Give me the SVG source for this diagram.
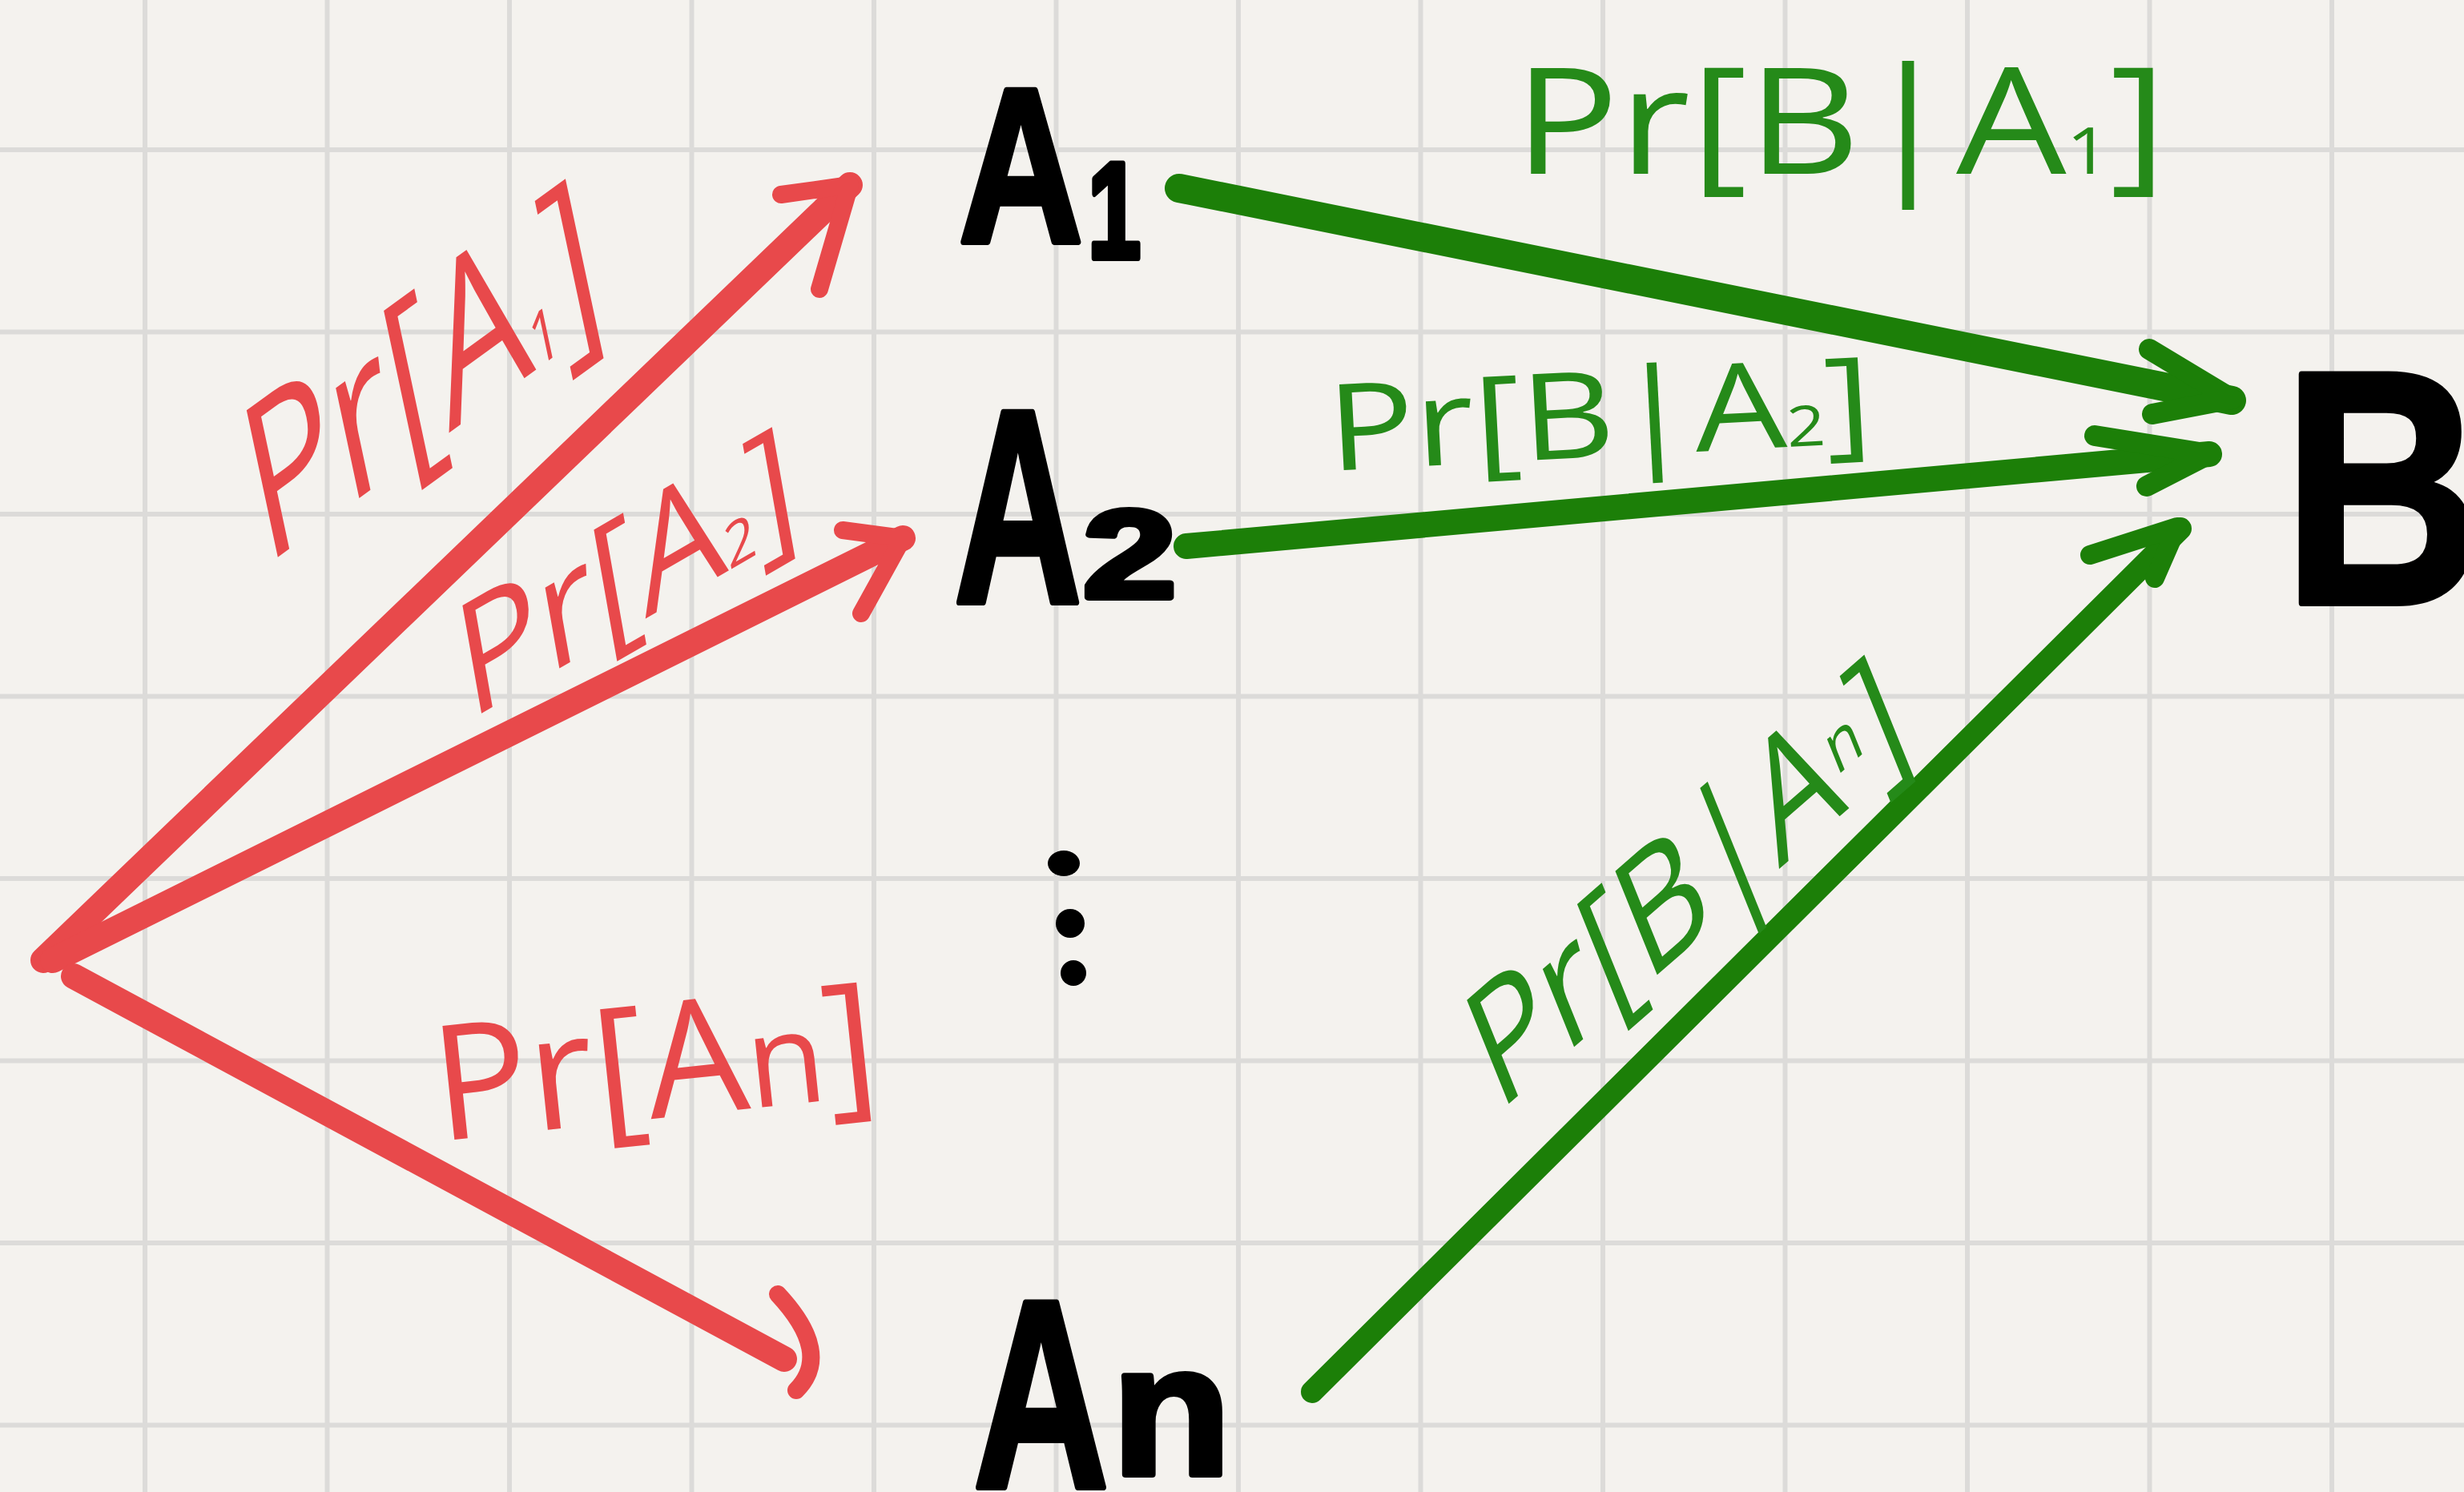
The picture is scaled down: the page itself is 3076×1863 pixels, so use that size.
<svg xmlns="http://www.w3.org/2000/svg" width="3076" height="1863" viewBox="0 0 3076 1863">
<style>
.grid{stroke:#dcdbd9;stroke-width:6;fill:none}
.red{stroke:#e8494b;fill:none;stroke-linecap:round;stroke-linejoin:round}
.grn{stroke:#1c7f08;fill:none;stroke-linecap:round;stroke-linejoin:round}
.big{font-family:"Liberation Sans",Arial,sans-serif;font-weight:bold;fill:#000;stroke:#000;stroke-width:8;stroke-linejoin:round}
.rl{font-family:"Open Sans","Liberation Sans",Arial,sans-serif;font-weight:400;fill:#e8494b}
.gl{font-family:"Open Sans","Liberation Sans",Arial,sans-serif;font-weight:400;fill:#258a19}
</style>
<rect width="3076" height="1863" fill="#f4f2ee"/>
<path class="grid" d="M181,0V1863M408.5,0V1863M636,0V1863M863.5,0V1863M1091,0V1863M1318.5,0V1863M1546,0V1863M1773.5,0V1863M2001,0V1863M2228.5,0V1863M2456,0V1863M2683.5,0V1863M2911,0V1863M0,187H3076M0,414.5H3076M0,642H3076M0,869.5H3076M0,1097H3076M0,1324.5H3076M0,1552H3076M0,1779.5H3076"/>
<g id="connectors">
<path class="red" stroke-width="32" d="M54,1199L1061,231"/>
<polyline class="red" stroke-width="22" points="975,243 1061,231 1023,361"/>
<path class="red" stroke-width="32" d="M66,1199L1127,672"/>
<polyline class="red" stroke-width="22" points="1052,662 1127,672 1075,766"/>
<path class="red" stroke-width="32" d="M92,1219L979,1697"/>
<path class="red" stroke-width="22" d="M971,1616Q1040,1690 994,1736"/>
<path class="grn" stroke-width="36" d="M1472,235L2786,500"/>
<polyline class="grn" stroke-width="26" points="2683,436 2786,498 2687,517"/>
<path class="grn" stroke-width="32" d="M1481,682L2758,567"/>
<polyline class="grn" stroke-width="26" points="2615,544 2758,567 2680,607"/>
<path class="grn" stroke-width="28" d="M1638,1738L2722,660"/>
<polyline class="grn" stroke-width="24" points="2609,693 2718,658 2690,722"/>
</g>
<g id="lbl-PrA1"><text class="rl" transform="translate(330,708) rotate(-36) skewX(-24)" font-size="240" textLength="530" lengthAdjust="spacingAndGlyphs">Pr[A<tspan font-size="80">1</tspan>]</text></g>
<g id="lbl-PrA2"><text class="rl" transform="translate(585,900) rotate(-30) skewX(-20)" font-size="180" textLength="480" lengthAdjust="spacingAndGlyphs">Pr[A<tspan font-size="70">2</tspan>]</text></g>
<g id="lbl-PrAn"><text class="rl" transform="translate(548,1425) rotate(-6)" font-size="200" textLength="555" lengthAdjust="spacingAndGlyphs">Pr[A<tspan font-size="160">n</tspan>]</text></g>
<g id="lbl-PrBA1"><text class="gl" x="1890" y="217" font-size="185" textLength="815" lengthAdjust="spacingAndGlyphs">Pr[B|A<tspan font-size="80">1</tspan>]</text></g>
<g id="lbl-PrBA2"><text class="gl" transform="translate(1660,588) rotate(-3)" font-size="150" textLength="680" lengthAdjust="spacingAndGlyphs">Pr[B|A<tspan font-size="70">2</tspan>]</text></g>
<g id="lbl-PrBAn"><text class="gl" transform="translate(1870,1390) rotate(-41) skewX(-19)" font-size="185" textLength="690" lengthAdjust="spacingAndGlyphs">Pr[B|A<tspan font-size="80" dy="-40">n</tspan><tspan dy="40">]</tspan></text></g>
<g id="A1"><text class="big" transform="translate(1197,302) scale(0.78,1)" font-size="275">A</text><text class="big" transform="translate(1358,322) scale(0.7,1)" font-size="170">1</text></g>
<g id="A2"><text class="big" transform="translate(1191,752) scale(0.64,1)" font-size="345">A</text><text class="big" transform="translate(1352,746) scale(1.35,1)" font-size="155">2</text></g>
<g id="An"><text class="big" transform="translate(1215,1857) scale(0.7,1)" font-size="335">A</text><text class="big" transform="translate(1388,1841) scale(1.05,1)" font-size="232">n</text></g>
<g id="B"><text class="big" transform="translate(2850,753) scale(0.83,1)" font-size="415">B</text></g>
<g id="dots"><ellipse cx="1328" cy="1078" rx="20" ry="16"/><circle cx="1336" cy="1153" r="18"/><circle cx="1340" cy="1215" r="16"/></g>
</svg>
